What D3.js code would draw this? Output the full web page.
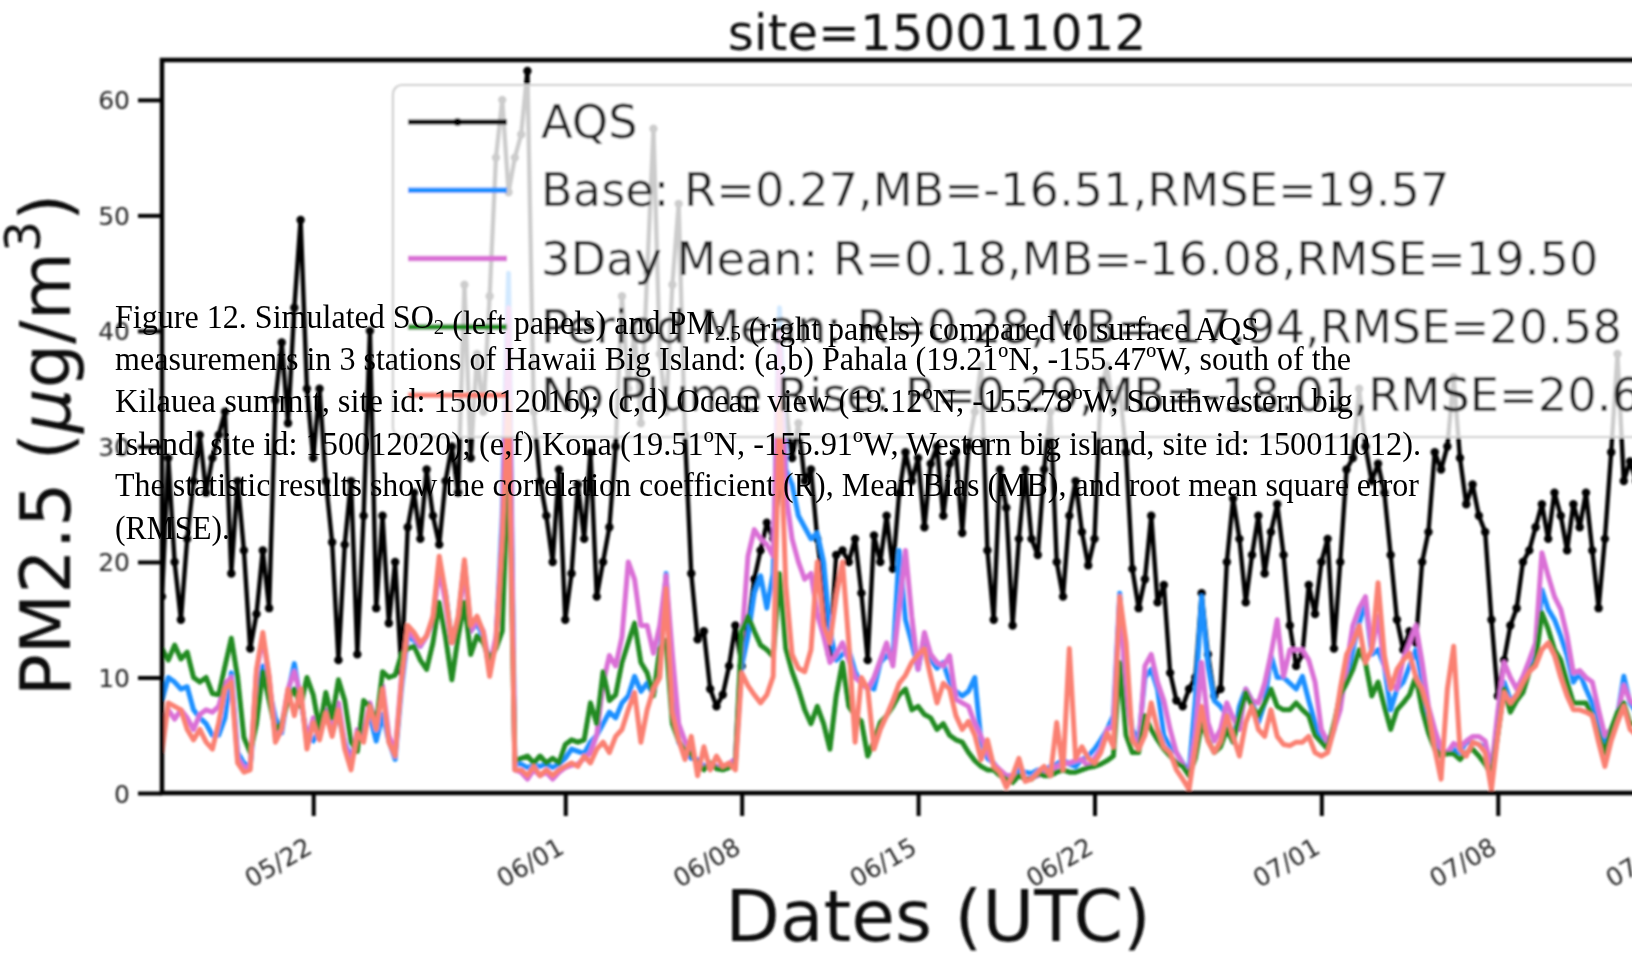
<!DOCTYPE html>
<html>
<head>
<meta charset="utf-8">
<script src="https://cdn.jsdelivr.net/npm/d3@7"></script>
<style>
  html, body { margin: 0; padding: 0; background: #fff; overflow: hidden; }
  svg { display: block; }
</style>
</head>
<body>
<svg id="chart" width="1632" height="956"></svg>
<script>
// ---- data: PM2.5 (ug/m3) every 6 hours from 2018-05-16 00:00 UTC ----
const startTime = Date.UTC(2018, 4, 16);
const stepHours = 6;

const aqs = [
  17, 29, 20, 15,   22, 27, 31, 26,   29, 31, 33, 19,   27, 21, 12.5, 15.5,
  21, 16, 34, 39,   32, 42, 49.6, 35,  29, 35, 27, 21.7,  11.5, 21.5, 27, 12,
  24, 40, 16, 24,   14.7, 20, 10.5, 23, 26, 22, 28, 24,  21.5, 27, 30, 26,
  44, 29, 38, 33,   43, 55, 60, 52,   55, 57, 62.5, 33,  27, 24, 20, 28,
  15, 19, 26.7, 22, 29.5, 17, 20, 23, 30, 43, 35, 40,   32, 45, 57.5, 38,
  33, 44, 51, 31,   19, 13.3, 14, 9,  7.5, 8.5, 11, 14.5, 11, 14.5, 18.5, 21,
  23.4, 22, 26.7, 33.6, 29, 32, 27, 28, 22, 17.3, 12, 20.6, 21, 20, 22, 17.3,
  11.5, 22.3, 20, 24, 19.4, 26, 29.5, 27, 29, 23, 28.5, 30, 24, 28.5, 29.5, 22.5,
  30, 33, 37, 21,   15, 28, 24.7, 14.5, 22, 28, 22, 20.6, 28, 33, 20, 17,
  24, 27, 22.6, 19.7, 22, 35, 37, 33, 35, 29.5, 19.4, 16, 18.5, 24, 16.5, 18,
  10.4, 8, 7.5, 9,  10, 17.3, 12, 8.4, 9, 20, 25.5, 22,  16.5, 20.6, 24, 19,
  22.6, 25, 20.6, 14.5, 11, 12, 18, 15.5, 20, 22, 12.5, 20, 28, 29, 35, 30,
  27, 28.5, 26, 20.6, 15, 12.4, 14, 13, 20, 22.6, 29.5, 28, 30, 36, 29, 25,
  26.7, 24, 22.6, 15, 8.4, 11.5, 14.5, 16, 20, 21, 23, 25, 22, 26, 24, 21,
  25, 23, 26, 21,   16, 22, 29.5, 38, 27, 28.7, 27
];

const base = [
  8, 10, 9.6, 9,    9.2, 7.2, 6.5, 6,  5, 5, 6.5, 10.4,  3.5, 2.6, 2.3, 8,
  11, 9, 6.5, 5.2,  8.7, 11.2, 8, 5,   4.5, 5.5, 7, 5.5,  6.7, 4.4, 3, 5,
  5.5, 6.6, 4.5, 6.8, 4.5, 2.9, 9, 13.6, 13.2, 12.7, 13.6, 15, 19.7, 17.3, 13, 15,
  19.9, 14, 14.7, 13.5, 10.7, 13, 24, 45, 2.5, 2.5, 2.2, 2.4, 2.3, 2.5, 2.2, 2.5,
  3, 3.8, 3.6, 3.4, 4.4, 5, 6, 7,    6.5, 7.8, 8.4, 10.1, 8.8, 9.5, 8.5, 11.3,
  19, 9, 4.4, 3.5,  3, 2.9, 2.3, 2.5,  2.3, 2.2, 2.5, 2.7, 11, 13.6, 17.3, 18.8,
  16, 19, 42, 28,   26.7, 24, 23, 22,  22.5, 20, 14, 11.5, 12, 12.4, 10.5, 9.5,
  9.2, 9, 11.3, 11.9, 11.5, 21, 15, 13, 10.7, 13.6, 11.5, 10.8, 11.3, 9.6, 8.8, 8.4,
  8.8, 10, 4.4, 3,  2.6, 1.8, 1.5, 1.5, 2, 1.8, 1.7, 2,   2, 2.3, 2.5, 2.9,
  2.5, 2.3, 2.9, 3.2, 3.8, 4.6, 5.5, 6.7, 17.3, 9, 5.5, 4.6, 10, 10.7, 9, 5,
  4, 3.5, 2.6, 1.8, 8, 17, 11, 8,     7.5, 6.7, 4.4, 7.5, 9, 8, 6.1, 7.8,
  11.9, 10, 10, 9.5, 9, 10.1, 8, 6.1, 4.6, 3.8, 5.5, 8.5, 10, 12.4, 14.7, 16.5,
  12, 12.4, 11, 7.2, 9, 9.6, 11, 12.4, 9.6, 6.1, 4.4, 3.2, 3.5, 3.8, 3.5, 4.4,
  4.4, 4.2, 4, 2,   6, 9.6, 8, 8.5,    9.6, 11, 11.9, 17.6, 15.9, 15, 13.6, 11.9,
  9.6, 10.4, 9, 7.8, 6.1, 4.4, 5.5, 6.7, 10.1, 7.8, 7
];

const threeDayMean = [
  5.5, 7.2, 6.4, 7.2, 6.5, 5.5, 6.8, 7.2, 7, 7.5, 9.5, 10, 3, 2.2, 2.3, 10.5,
  13.5, 10, 4.8, 5.8, 9, 10.5, 8.5, 4.4, 6.5, 5, 7.2, 5.2, 7.8, 4.2, 2.5, 5.5,
  5, 7.8, 5.8, 9.3, 5, 3.5, 10, 14,  13.5, 12.7, 13.6, 15, 19.5, 16.5, 13, 14.8,
  19.5, 14, 15, 14, 11, 13.5, 22, 42, 2, 1.8, 1.2, 2,    1.5, 1.8, 1.2, 1.8,
  2.2, 2.4, 2.5, 3, 3.5, 5, 9.5, 11.9, 11, 13.5, 20, 18.5, 14.5, 14.5, 12.1, 14.5,
  18.8, 12, 6, 4.5, 3.5, 2.5, 2.2, 2.5, 2.3, 2.2, 2.5, 3, 13, 20.5, 22.8, 22,
  21.5, 20.5, 40, 26, 22, 20, 18.5, 19, 15.5, 13.6, 11.3, 12, 13, 11.5, 10, 9.5,
  9, 10, 11.5, 13,  11, 16, 21, 15.3,  10.7, 13.9, 12, 11.3, 11, 11.9, 8.1, 7.8,
  7.5, 6, 4.9, 3.5, 2.5, 2, 1.5, 1.5,  1.5, 1.2, 1.3, 1.5,  1.7, 1.8, 2.3, 2.5,
  2.6, 2.8, 2.9, 2.3, 3, 3.8, 5.5, 5.8, 16.8, 9, 5, 3.8,  11, 12, 9.6, 8,
  5.5, 3.5, 2.5, 1.5, 5, 11.3, 6.1, 4.5, 5.5, 7.8, 6.5, 5.5, 9, 8, 7.8, 9.5,
  12, 15, 10.1, 12.4, 12.4, 12.4, 11.5, 9.6, 5.5, 4.4, 5.5, 7.2, 11, 14.5, 16, 17,
  12.4, 15.3, 11, 9.5, 9, 11.6, 13, 14.5, 11.3, 7.5, 5.5, 3.8, 3.5, 4.3, 4, 4.5,
  4.9, 4.9, 4.5, 2, 7, 11.3, 10, 9,   10.1, 11.5, 13, 20.8, 18.8, 17, 15.9, 13.6,
  10.4, 10.6, 10, 9.6, 7.2, 5, 5.5, 6.7, 9.3, 8, 7.5
];

const periodMean = [
  12.5, 11.5, 12.8, 11.6, 12.2, 10, 9.6, 10, 8.6, 8.5, 11, 13.4, 10, 4.8, 3.5, 6,
  10.5, 8, 5.5, 6,  8, 9, 7.5, 10,   8.5, 5.5, 8.7, 6.5, 9.8, 8, 4.4, 3.6,
  8, 7.5, 6, 10.5,  10, 10.2, 12, 12.5, 12.7, 11.5, 10.7, 13, 16.5, 13.5, 9.8, 13.5,
  16.5, 12, 13.6, 13, 11.5, 12.5, 14, 30, 2.8, 3, 3.2, 2.6, 3.2, 2.6, 3, 2.6,
  4.2, 4.6, 4.4, 4.6, 7.8, 6, 10.5, 8, 8.5, 11.3, 13, 14.7, 11.3, 10.4, 8.4, 12.5,
  13.2, 6, 4.5, 3.6, 3.4, 2.5, 2, 2.6, 2.1, 2, 2.2, 2.5, 14, 15.3, 14, 12.8,
  12.4, 11.8, 19, 12.5, 10.5, 9, 7.2, 6, 7.5, 6, 3.8, 8.4, 11.3, 7.5, 6.7, 6.2,
  3.2, 4.5, 6.1, 6.7, 7.5, 8.5, 9, 7.2, 7.5, 6.8, 6.5, 5.5, 6, 5, 4.6, 4.4,
  3.5, 2.8, 2.3, 2, 2, 1.5, 1.2, 0.9,  1.5, 1.2, 1.2, 1.7, 1.5, 1.5, 1.8, 2,
  1.8, 1.8, 2, 2.2, 2.3, 2.5, 2.8, 3.2, 11.3, 5, 3.5, 3.5, 6.7, 5.5, 4.6, 3.8,
  3.2, 2.6, 2.3, 1.5, 3, 6.1, 4.6, 3.5, 4, 5.5, 4.4, 6.7,  8.7, 7.5, 6.7, 7.8,
  9, 7.5, 7.2, 7.2, 7.8, 7.2, 6.7, 5,  4.4, 3.8, 6, 8.5,   9.5, 10.7, 12.4, 11.3,
  8.4, 9.6, 7.5, 5.5, 7.2, 7.8, 8.5, 10.1, 7.2, 5.2, 3.8, 3.2, 3.4, 3.4, 2.9, 3.5,
  3.8, 3.2, 2.5, 1.5, 5, 9, 7, 8,    8.7, 10.5, 11.3, 15.6, 14.2, 12.4, 11.5, 9.6,
  7.8, 7.8, 7.8, 6.7, 5, 3.5, 5.5, 7, 7.8, 6, 6
];

const noPlumeRise = [
  3.5, 7.8, 7.5, 7.2, 5.5, 4.6, 5.5, 4.4, 3.8, 6.1, 9, 9.6,  2.6, 1.8, 2, 10.7,
  13.9, 10.1, 4.4, 5.5, 9, 6.7, 9, 3.8, 6.1, 4.6, 6.9, 4.9, 7.2, 3.8, 2, 5.2,
  4.4, 7.5, 5.5, 9, 4.4, 3.2, 9.6, 14.5, 13.9, 13, 13.6, 15.3, 20.5, 17.3, 13, 15.3,
  20.2, 14.5, 15.3, 13.9, 10.1, 13, 22, 34, 2, 2, 1.5, 2.3, 1.5, 2, 1.5, 2,
  2.3, 2.6, 2.3, 3.2, 2.6, 3.8, 4.4, 3.5, 4.9, 5.5, 7.2, 8.7, 4.4, 7.2, 9, 10,
  17.7, 7, 4.6, 2.9, 4.9, 1.5, 4, 2,  3.2, 2.3, 2.6, 2,   10.4, 9.3, 8.5, 7.8,
  8.5, 10.1, 34, 18, 12, 10.8, 10.5, 12.4, 20, 14.5, 13, 17, 20, 13, 4.4, 10,
  9, 3.8, 5.5, 6.7, 8, 9.5, 10.2, 11.3, 12, 12.5, 10.1, 7.8, 9.5, 9, 6.7, 5.5,
  6.2, 5, 2.9, 4.6, 2.3, 1.8, 0.5, 1.5, 3, 1, 1.2, 1.8,  2.3, 1.5, 6.1, 2,
  12.5, 3, 4, 3,   2.6, 3.5, 5.2, 4,  17, 13, 4.6, 3.8,   5, 7.8, 5.5, 4,
  3.5, 2, 1.2, 0.3, 4, 7.5, 4.5, 3.5, 4.5, 6.7, 4.9, 3.2, 6.1, 7.5, 5.5, 4.9,
  7.2, 4.9, 4.2, 4.1, 4.4, 4.4, 4.9, 3.5, 3.2, 3.5, 5.5, 9, 12, 13, 14.5, 11.3,
  12.4, 18.2, 11.9, 9, 10.7, 11.5, 12.1, 10, 9, 7.2, 3.8, 1.2, 9, 12.7, 3.8, 3.2,
  4.4, 4.2, 3.5, 0.3, 5, 8.7, 7.8, 8.5, 9.6, 10.5, 11, 12.4, 13, 11.9, 10, 8.4,
  7.2, 7.2, 7, 6.7, 4.4, 2.3, 4.5, 6.1, 7.5, 5.5, 5
];

const seriesNames = ["AQS", "Base", "3Day Mean", "Period Mean", "No Plume Rise"];
const seriesColors = ["#000000", "#1e90ff", "#da70d6", "#228b22", "#fa8072"];
const legendLabels = [
  "AQS",
  "Base: R=0.27,MB=-16.51,RMSE=19.57",
  "3Day Mean: R=0.18,MB=-16.08,RMSE=19.50",
  "Period Mean: R=0.28,MB=-17.94,RMSE=20.58",
  "No Plume Rise: R=0.29,MB=-18.01,RMSE=20.62"
];
const yTickValues = [0, 10, 20, 30, 40, 50, 60];
const xTickDays = ["2018-05-22", "2018-06-01", "2018-06-08", "2018-06-15",
                   "2018-06-22", "2018-07-01", "2018-07-08", "2018-07-15"];
const titleText = "site=150011012";

const captionLines = [
  [["Figure 12. Simulated SO"], ["2", "sub"], [" (left panels) and PM"], ["2.5", "sub"], [" (right panels) compared to surface AQS"]],
  [["measurements in 3 stations of Hawaii Big Island: (a,b) Pahala (19.21ºN, -155.47ºW, south of the"]],
  [["Kilauea summit, site id: 150012016); (c,d) Ocean view (19.12ºN, -155.78ºW, Southwestern big"]],
  [["Island, site id: 150012020); (e,f) Kona (19.51ºN, -155.91ºW, Western big island, site id: 150011012)."]],
  [["The statistic results show the correlation coefficient (R), Mean Bias (MB), and root mean square error"]],
  [["(RMSE)."]]
];
const captionWidths = [1144, 1236, 1238, 1306, 1304, 115];

// ---- layout ----
const plot = { left: 162, top: 60, right: 1712, bottom: 793 };
const svg = d3.select("#chart");
const FONT = "'DejaVu Sans', sans-serif";

const defs = svg.append("defs");
defs.append("clipPath").attr("id", "plotClip")
  .append("rect")
  .attr("x", plot.left).attr("y", plot.top)
  .attr("width", plot.right - plot.left).attr("height", plot.bottom - plot.top);
defs.append("filter").attr("id", "soft")
  .attr("x", "-5%").attr("y", "-5%").attr("width", "110%").attr("height", "110%")
  .append("feGaussianBlur").attr("stdDeviation", 0.8);

const x = d3.scaleUtc()
  .domain([new Date(startTime), new Date(Date.UTC(2018, 6, 16, 12))])
  .range([plot.left, plot.right]);
const y = d3.scaleLinear().domain([0, 63.45]).range([plot.bottom, plot.top]);

const timeAt = i => new Date(startTime + i * stepHours * 3600 * 1000);
const toPoints = arr => arr.map((v, i) => ({ t: timeAt(i), v }));

const chart = svg.append("g").attr("filter", "url(#soft)");

// series lines
const lineGen = d3.line().x(d => x(d.t)).y(d => y(d.v));
const dataG = chart.append("g").attr("clip-path", "url(#plotClip)");
const allSeries = [aqs, base, threeDayMean, periodMean, noPlumeRise];
allSeries.forEach((arr, k) => {
  const pts = toPoints(arr);
  dataG.append("path")
    .datum(pts)
    .attr("d", lineGen)
    .attr("fill", "none")
    .attr("stroke", seriesColors[k])
    .attr("stroke-width", k === 0 ? 4.4 : 5)
    .attr("stroke-linejoin", "round");
  if (k === 0) {
    dataG.append("g").selectAll("circle")
      .data(pts).join("circle")
      .attr("cx", d => x(d.t)).attr("cy", d => y(d.v))
      .attr("r", 4.2).attr("fill", "#000");
  }
});

// y axis
const yAxis = chart.append("g")
  .attr("transform", `translate(${plot.left},0)`)
  .call(d3.axisLeft(y).tickValues(yTickValues).tickSize(24).tickPadding(8));
yAxis.select(".domain").remove();
yAxis.selectAll(".tick line").attr("stroke", "#000").attr("stroke-width", 4);
yAxis.selectAll(".tick text")
  .attr("font-family", FONT).attr("font-size", 25).attr("fill", "#262626")
  .attr("dy", "0.36em");

// x axis
const xAxis = chart.append("g")
  .attr("transform", `translate(0,${plot.bottom})`)
  .call(d3.axisBottom(x)
    .tickValues(xTickDays.map(s => new Date(s + "T00:00:00Z")))
    .tickFormat(d3.utcFormat("%m/%d"))
    .tickSize(23));
xAxis.select(".domain").remove();
xAxis.selectAll(".tick line").attr("stroke", "#000").attr("stroke-width", 4);
xAxis.selectAll(".tick text")
  .attr("font-family", FONT).attr("font-size", 25).attr("fill", "#262626")
  .attr("x", 0).attr("y", 0).attr("dy", 0)
  .attr("text-anchor", "end")
  .attr("transform", "translate(0,59) rotate(-30)");

// frame (top, left, bottom spines; right side runs past the view)
chart.append("path")
  .attr("d", `M${plot.right},${plot.top}H${plot.left}V${plot.bottom}H${plot.right}`)
  .attr("fill", "none").attr("stroke", "#000").attr("stroke-width", 4.5);

// title
chart.append("text")
  .attr("x", (plot.left + plot.right) / 2).attr("y", 50)
  .attr("text-anchor", "middle")
  .attr("font-family", FONT).attr("font-size", 50).attr("fill", "#111")
  .text(titleText);

// axis labels
chart.append("text")
  .attr("x", 938).attr("y", 941)
  .attr("text-anchor", "middle")
  .attr("font-family", FONT).attr("font-size", 71).attr("fill", "#111")
  .text("Dates (UTC)");

const yLab = chart.append("text")
  .attr("transform", "translate(70,445) rotate(-90)")
  .attr("text-anchor", "middle")
  .attr("font-family", FONT).attr("font-size", 70).attr("fill", "#111");
yLab.append("tspan").text("PM2.5 (");
yLab.append("tspan").attr("font-style", "italic").text("\u03bc");
yLab.append("tspan").text("g/m");
yLab.append("tspan").attr("font-size", 49).attr("dy", -30).text("3");
yLab.append("tspan").attr("dy", 30).text(")");

// legend
const leg = chart.append("g");
leg.append("rect")
  .attr("x", 393).attr("y", 85).attr("width", 1400).attr("height", 352)
  .attr("rx", 9)
  .attr("fill", "#fff").attr("fill-opacity", 0.8)
  .attr("stroke", "#cfcfcf").attr("stroke-width", 2.2);
legendLabels.forEach((lab, k) => {
  const cy = 122 + k * 68.3;
  leg.append("line")
    .attr("x1", 408).attr("x2", 507).attr("y1", cy).attr("y2", cy)
    .attr("stroke", seriesColors[k]).attr("stroke-width", k === 0 ? 5 : 5.5);
  if (k === 0) {
    leg.append("circle").attr("cx", 457.5).attr("cy", cy).attr("r", 4).attr("fill", "#000");
  }
  leg.append("text")
    .attr("x", 541).attr("y", cy + 16)
    .attr("font-family", FONT).attr("font-size", 46.3).attr("fill", "#222")
    .text(lab);
});

// caption text on top of the figure
const capG = svg.append("g");
const capBaselines = [328, 370, 412, 455, 496, 539];
captionLines.forEach((parts, i) => {
  const t = capG.append("text")
    .attr("x", 115).attr("y", capBaselines[i])
    .attr("font-family", "'Liberation Serif', 'Times New Roman', serif")
    .attr("font-size", 34).attr("fill", "#000")
    .attr("textLength", captionWidths[i])
    .attr("lengthAdjust", "spacingAndGlyphs");
  parts.forEach(([s, kind]) => {
    if (kind === "sub") {
      t.append("tspan").attr("font-size", 22).attr("dy", 6).text(s);
      t.append("tspan").attr("dy", -6).text("");
    } else {
      t.append("tspan").text(s);
    }
  });
});
</script>
</body>
</html>
